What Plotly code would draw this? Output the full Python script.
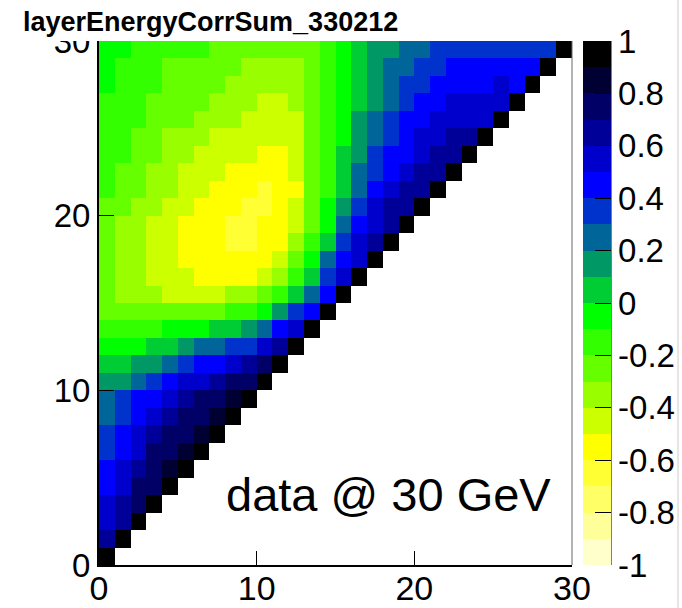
import plotly.graph_objects as go

# correlation matrix rows (row index = y bin, values for x bins 0..row)
r29 = [-0.05, -0.05, -0.15, -0.15, -0.15, -0.15, -0.15, -0.25, -0.25, -0.25, -0.25, -0.25, -0.25, -0.25, -0.15,
       -0.05, 0.05, 0.15, 0.15, 0.25, 0.25, 0.35, 0.35, 0.35, 0.35, 0.35, 0.35, 0.35, 0.35, 1.0]
r28 = [-0.05, -0.15, -0.15, -0.15, -0.25, -0.25, -0.25, -0.25, -0.25, -0.35, -0.35, -0.35, -0.35, -0.25, -0.15,
       -0.05, 0.05, 0.15, 0.25, 0.25, 0.35, 0.35, 0.45, 0.45, 0.45, 0.45, 0.45, 0.45, 1.0]
r27 = [-0.05, -0.15, -0.15, -0.15, -0.25, -0.25, -0.25, -0.25, -0.35, -0.35, -0.35, -0.35, -0.35, -0.25, -0.15,
       -0.05, 0.05, 0.15, 0.25, 0.35, 0.35, 0.45, 0.45, 0.45, 0.45, 0.55, 0.45, 1.0]
r26 = [-0.15, -0.15, -0.15, -0.25, -0.25, -0.25, -0.25, -0.35, -0.35, -0.35, -0.45, -0.45, -0.35, -0.25, -0.15,
       -0.05, 0.05, 0.15, 0.25, 0.35, 0.45, 0.45, 0.55, 0.55, 0.55, 0.55, 1.0]
r25 = [-0.15, -0.15, -0.15, -0.25, -0.25, -0.25, -0.35, -0.35, -0.35, -0.45, -0.45, -0.45, -0.45, -0.25, -0.15,
       -0.05, 0.15, 0.25, 0.35, 0.45, 0.45, 0.55, 0.55, 0.55, 0.55, 1.0]
r24 = [-0.15, -0.15, -0.25, -0.25, -0.35, -0.35, -0.35, -0.45, -0.45, -0.45, -0.45, -0.45, -0.45, -0.25, -0.15,
       -0.05, 0.15, 0.25, 0.35, 0.45, 0.55, 0.55, 0.65, 0.65, 1.0]
r23 = [-0.15, -0.15, -0.25, -0.25, -0.35, -0.35, -0.45, -0.45, -0.45, -0.45, -0.55, -0.55, -0.45, -0.25, -0.15,
       0.05, 0.15, 0.35, 0.45, 0.45, 0.55, 0.65, 0.65, 1.0]
r22 = [-0.15, -0.25, -0.25, -0.35, -0.35, -0.45, -0.45, -0.45, -0.55, -0.55, -0.55, -0.55, -0.45, -0.25, -0.15,
       0.05, 0.25, 0.35, 0.45, 0.55, 0.65, 0.65, 1.0]
r21 = [-0.15, -0.25, -0.25, -0.35, -0.35, -0.45, -0.45, -0.55, -0.55, -0.55, -0.65, -0.55, -0.55, -0.25, -0.15,
       0.05, 0.25, 0.45, 0.55, 0.65, 0.65, 1.0]
r20 = [-0.25, -0.25, -0.35, -0.35, -0.45, -0.45, -0.55, -0.55, -0.55, -0.65, -0.65, -0.55, -0.45, -0.25, -0.05,
       0.15, 0.35, 0.55, 0.65, 0.65, 1.0]
r19 = [-0.25, -0.35, -0.35, -0.45, -0.45, -0.55, -0.55, -0.55, -0.65, -0.65, -0.55, -0.55, -0.45, -0.25, -0.05,
       0.25, 0.45, 0.55, 0.65, 1.0]
r18 = [-0.25, -0.35, -0.35, -0.45, -0.45, -0.55, -0.55, -0.55, -0.65, -0.65, -0.55, -0.55, -0.35, -0.15, 0.05,
       0.35, 0.55, 0.65, 1.0]
r17 = [-0.25, -0.35, -0.35, -0.45, -0.45, -0.55, -0.55, -0.55, -0.55, -0.55, -0.55, -0.45, -0.25, -0.05, 0.25,
       0.45, 0.55, 1.0]
r16 = [-0.25, -0.35, -0.35, -0.45, -0.45, -0.45, -0.55, -0.55, -0.55, -0.55, -0.45, -0.35, -0.15, 0.05, 0.35,
       0.55, 1.0]
r15 = [-0.25, -0.35, -0.35, -0.35, -0.45, -0.45, -0.45, -0.45, -0.35, -0.35, -0.25, -0.15, 0.05, 0.25, 0.45,
       1.0]
r14 = [-0.25, -0.25, -0.25, -0.25, -0.25, -0.25, -0.25, -0.25, -0.15, -0.15, -0.05, 0.15, 0.35, 0.45, 1.0]
r13 = [-0.15, -0.15, -0.15, -0.15, -0.05, -0.05, -0.05, 0.05, 0.05, 0.15, 0.25, 0.45, 0.55, 1.0]
r12 = [-0.05, -0.05, -0.05, 0.05, 0.05, 0.15, 0.25, 0.25, 0.35, 0.35, 0.55, 0.65, 1.0]
r11 = [0.05, 0.05, 0.15, 0.15, 0.25, 0.35, 0.45, 0.45, 0.55, 0.65, 0.75, 1.0]
r10 = [0.15, 0.15, 0.25, 0.35, 0.45, 0.55, 0.55, 0.65, 0.75, 0.75, 1.0]
r09 = [0.25, 0.35, 0.45, 0.45, 0.55, 0.65, 0.75, 0.75, 0.85, 1.0]
r08 = [0.25, 0.35, 0.45, 0.55, 0.65, 0.75, 0.75, 0.85, 1.0]
r07 = [0.35, 0.45, 0.55, 0.65, 0.75, 0.75, 0.85, 1.0]
r06 = [0.35, 0.45, 0.55, 0.75, 0.75, 0.85, 1.0]
r05 = [0.45, 0.55, 0.65, 0.75, 0.85, 1.0]
r04 = [0.45, 0.55, 0.75, 0.75, 1.0]
r03 = [0.55, 0.65, 0.75, 1.0]
r02 = [0.55, 0.65, 1.0]
r01 = [0.65, 1.0]
r00 = [1.0]

rows = [r00, r01, r02, r03, r04, r05, r06, r07, r08, r09, r10, r11, r12, r13, r14,
        r15, r16, r17, r18, r19, r20, r21, r22, r23, r24, r25, r26, r27, r28, r29]

n_bins = 30
bin_centers = [b + 0.5 for b in range(n_bins)]
z = [row + [None] * (n_bins - len(row)) for row in rows]

# 20-step palette from -1 to 1
palette = ["#FFFFCC", "#FFFF99", "#FFFF66", "#FFFF33", "#FFFF00",
           "#CCFF00", "#99FF00", "#66FF00", "#33FF00", "#00FF00",
           "#00CC33", "#009966", "#006699", "#0033CC", "#0000FF",
           "#0000CC", "#000099", "#000066", "#000033", "#000000"]
colorscale = []
for k, col in enumerate(palette):
    colorscale.append([k / len(palette), col])
    colorscale.append([(k + 1) / len(palette), col])

cb_ticks = [1, 0.8, 0.6, 0.4, 0.2, 0, -0.2, -0.4, -0.6, -0.8, -1]
cb_labels = ["1", "0.8", "0.6", "0.4", "0.2", "0", "-0.2", "-0.4", "-0.6", "-0.8", "-1"]
axis_ticks = [0, 10, 20, 30]

title_text = "layerEnergyCorrSum_330212"
note_text = "data @ 30 GeV"

FONT = "Liberation Sans, Arial, sans-serif"
W, H = 682, 608
L, R, T, B = 99, 110, 41, 43
PW = W - L - R
PH = H - T - B


def px_x(px):
    return (px - L) / PW


def px_y(py):
    return (H - B - py) / PH


fig = go.Figure(go.Heatmap(
    x=bin_centers, y=bin_centers, z=z,
    zmin=-1, zmax=1, colorscale=colorscale,
    hoverongaps=False,
    colorbar=dict(
        x=px_x(583), xanchor="left", xref="paper",
        y=0.5, yanchor="middle", len=1, lenmode="fraction",
        thickness=28, thicknessmode="pixels",
        xpad=0, ypad=0, outlinewidth=0,
        tickmode="array", tickvals=cb_ticks, ticktext=cb_labels,
        ticks="inside", ticklen=16, tickwidth=1, tickcolor="black",
        tickfont=dict(family=FONT, size=33, color="black"),
    ),
))

axis_common = dict(
    range=[0, 30], tickmode="array", tickvals=axis_ticks,
    ticks="inside", tickwidth=1, tickcolor="black",
    showline=True, linecolor="black", linewidth=2,
    showgrid=False, zeroline=False, automargin=False,
)
fig.update_xaxes(ticklen=14, ticklabelstandoff=-8,
                 tickfont=dict(family=FONT, size=34, color="black"), **axis_common)
fig.update_yaxes(ticklen=15,
                 tickfont=dict(family=FONT, size=33, color="black"), **axis_common)

fig.update_layout(
    width=W, height=H,
    margin=dict(l=L, r=R, t=T, b=B, pad=0, autoexpand=False),
    paper_bgcolor="white", plot_bgcolor="white",
    shapes=[
        # right frame edge
        dict(type="line", xref="paper", yref="paper", x0=1, x1=1, y0=0, y1=1,
             line=dict(color="#666666", width=1), layer="above"),
        # colorbar axis line
        dict(type="line", xref="paper", yref="paper", x0=px_x(611), x1=px_x(611), y0=0, y1=1,
             line=dict(color="black", width=1), layer="above"),
        # title box (white) covering the top of the plot area label
        dict(type="rect", xref="paper", yref="paper", x0=px_x(6), x1=px_x(410),
             y0=1.0, y1=px_y(0), fillcolor="white", line=dict(width=0), layer="above"),
        # canvas right border
        dict(type="line", xref="paper", yref="paper", x0=px_x(678), x1=px_x(678),
             y0=px_y(0), y1=px_y(608), line=dict(color="#cccccc", width=1), layer="above"),
    ],
    annotations=[
        dict(text="<b>" + title_text + "</b>", xref="paper", yref="paper",
             x=px_x(21), y=px_y(22), xanchor="left", yanchor="middle", showarrow=False,
             font=dict(family=FONT, size=27, color="black")),
        dict(text=note_text, xref="paper", yref="paper",
             x=px_x(224), y=px_y(495), xanchor="left", yanchor="middle", showarrow=False,
             font=dict(family=FONT, size=47, color="black")),
    ],
)

fig.write_html("out.html")
